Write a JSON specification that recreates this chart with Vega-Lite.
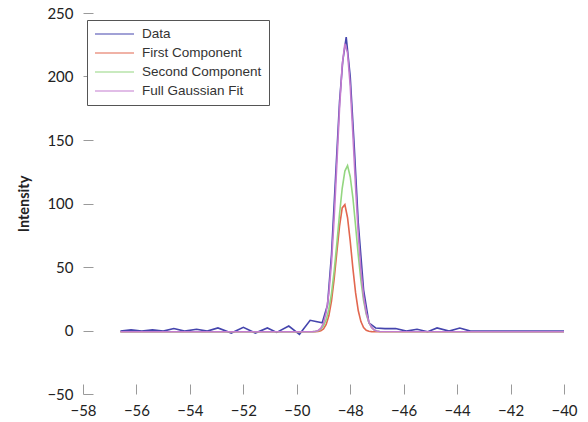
{
  "$schema": "https://vega.github.io/schema/vega-lite/v6.json",
  "autosize": {"type": "none"},
  "width": 481,
  "height": 381,
  "padding": {"left": 83, "top": 13, "right": 24, "bottom": 28},
  "background": "white",
  "config": {
    "view": {"stroke": null},
    "font": "Lato"
  },
  "datasets": {
    "series": [
      {"x": -56.6, "y": -0.5, "series": "Data"},
      {"x": -56.2, "y": 0.5, "series": "Data"},
      {"x": -55.8, "y": -0.5, "series": "Data"},
      {"x": -55.4, "y": 0.5, "series": "Data"},
      {"x": -55.0, "y": -0.5, "series": "Data"},
      {"x": -54.6, "y": 1.5, "series": "Data"},
      {"x": -54.2, "y": -0.5, "series": "Data"},
      {"x": -53.75, "y": 1, "series": "Data"},
      {"x": -53.35, "y": -0.5, "series": "Data"},
      {"x": -52.95, "y": 2, "series": "Data"},
      {"x": -52.45, "y": -2, "series": "Data"},
      {"x": -52.0, "y": 2.5, "series": "Data"},
      {"x": -51.55, "y": -2, "series": "Data"},
      {"x": -51.1, "y": 2, "series": "Data"},
      {"x": -50.75, "y": -1.5, "series": "Data"},
      {"x": -50.3, "y": 3.5, "series": "Data"},
      {"x": -49.9, "y": -3, "series": "Data"},
      {"x": -49.5, "y": 8, "series": "Data"},
      {"x": -49.05, "y": 6, "series": "Data"},
      {"x": -48.85, "y": 20, "series": "Data"},
      {"x": -48.7, "y": 60, "series": "Data"},
      {"x": -48.55, "y": 120, "series": "Data"},
      {"x": -48.4, "y": 180, "series": "Data"},
      {"x": -48.28, "y": 212, "series": "Data"},
      {"x": -48.15, "y": 231, "series": "Data"},
      {"x": -48.0, "y": 200, "series": "Data"},
      {"x": -47.85, "y": 145, "series": "Data"},
      {"x": -47.7, "y": 85, "series": "Data"},
      {"x": -47.5, "y": 32, "series": "Data"},
      {"x": -47.3, "y": 6, "series": "Data"},
      {"x": -47.05, "y": 2, "series": "Data"},
      {"x": -46.7, "y": 1.5, "series": "Data"},
      {"x": -46.3, "y": 1.5, "series": "Data"},
      {"x": -45.9, "y": -0.5, "series": "Data"},
      {"x": -45.5, "y": 1, "series": "Data"},
      {"x": -45.1, "y": -1, "series": "Data"},
      {"x": -44.75, "y": 2, "series": "Data"},
      {"x": -44.3, "y": -0.5, "series": "Data"},
      {"x": -43.9, "y": 2, "series": "Data"},
      {"x": -43.5, "y": -0.5, "series": "Data"},
      {"x": -43.1, "y": -0.5, "series": "Data"},
      {"x": -42.7, "y": -0.5, "series": "Data"},
      {"x": -42.3, "y": -0.5, "series": "Data"},
      {"x": -41.9, "y": -0.5, "series": "Data"},
      {"x": -41.5, "y": -0.5, "series": "Data"},
      {"x": -41.1, "y": -0.5, "series": "Data"},
      {"x": -40.7, "y": -0.5, "series": "Data"},
      {"x": -40.3, "y": -0.5, "series": "Data"},
      {"x": -40.0, "y": -0.5, "series": "Data"},

      {"x": -56.6, "y": -1, "series": "First Component"},
      {"x": -49.3, "y": -0.9, "series": "First Component"},
      {"x": -49.2, "y": -0.75, "series": "First Component"},
      {"x": -49.1, "y": -0.2, "series": "First Component"},
      {"x": -49.0, "y": 1.3, "series": "First Component"},
      {"x": -48.9, "y": 4.7, "series": "First Component"},
      {"x": -48.8, "y": 11.6, "series": "First Component"},
      {"x": -48.7, "y": 23.4, "series": "First Component"},
      {"x": -48.6, "y": 40.8, "series": "First Component"},
      {"x": -48.5, "y": 61.8, "series": "First Component"},
      {"x": -48.4, "y": 82.2, "series": "First Component"},
      {"x": -48.3, "y": 96.5, "series": "First Component"},
      {"x": -48.2, "y": 99.2, "series": "First Component"},
      {"x": -48.1, "y": 88.8, "series": "First Component"},
      {"x": -48.0, "y": 70.4, "series": "First Component"},
      {"x": -47.9, "y": 48.9, "series": "First Component"},
      {"x": -47.8, "y": 29.8, "series": "First Component"},
      {"x": -47.7, "y": 15.7, "series": "First Component"},
      {"x": -47.6, "y": 7.0, "series": "First Component"},
      {"x": -47.5, "y": 2.3, "series": "First Component"},
      {"x": -47.4, "y": 0.2, "series": "First Component"},
      {"x": -47.3, "y": -0.6, "series": "First Component"},
      {"x": -47.2, "y": -0.9, "series": "First Component"},
      {"x": -40.0, "y": -1, "series": "First Component"},

      {"x": -56.6, "y": -1, "series": "Second Component"},
      {"x": -49.4, "y": -0.9, "series": "Second Component"},
      {"x": -49.3, "y": -0.7, "series": "Second Component"},
      {"x": -49.2, "y": -0.2, "series": "Second Component"},
      {"x": -49.1, "y": 1.0, "series": "Second Component"},
      {"x": -49.0, "y": 3.6, "series": "Second Component"},
      {"x": -48.9, "y": 8.4, "series": "Second Component"},
      {"x": -48.8, "y": 16.6, "series": "Second Component"},
      {"x": -48.7, "y": 29.3, "series": "Second Component"},
      {"x": -48.6, "y": 47.0, "series": "Second Component"},
      {"x": -48.5, "y": 68.6, "series": "Second Component"},
      {"x": -48.4, "y": 91.6, "series": "Second Component"},
      {"x": -48.3, "y": 112.0, "series": "Second Component"},
      {"x": -48.2, "y": 125.5, "series": "Second Component"},
      {"x": -48.1, "y": 129.8, "series": "Second Component"},
      {"x": -48.0, "y": 121.1, "series": "Second Component"},
      {"x": -47.9, "y": 104.5, "series": "Second Component"},
      {"x": -47.8, "y": 82.5, "series": "Second Component"},
      {"x": -47.7, "y": 59.6, "series": "Second Component"},
      {"x": -47.6, "y": 39.4, "series": "Second Component"},
      {"x": -47.5, "y": 23.6, "series": "Second Component"},
      {"x": -47.4, "y": 12.8, "series": "Second Component"},
      {"x": -47.3, "y": 6.1, "series": "Second Component"},
      {"x": -47.2, "y": 2.3, "series": "Second Component"},
      {"x": -47.1, "y": 0.4, "series": "Second Component"},
      {"x": -47.0, "y": -0.4, "series": "Second Component"},
      {"x": -46.9, "y": -0.8, "series": "Second Component"},
      {"x": -40.0, "y": -1, "series": "Second Component"},

      {"x": -56.6, "y": -1, "series": "Full Gaussian Fit"},
      {"x": -49.4, "y": -0.9, "series": "Full Gaussian Fit"},
      {"x": -49.3, "y": -0.6, "series": "Full Gaussian Fit"},
      {"x": -49.2, "y": 0.05, "series": "Full Gaussian Fit"},
      {"x": -49.1, "y": 1.8, "series": "Full Gaussian Fit"},
      {"x": -49.0, "y": 5.9, "series": "Full Gaussian Fit"},
      {"x": -48.9, "y": 14.1, "series": "Full Gaussian Fit"},
      {"x": -48.8, "y": 29.2, "series": "Full Gaussian Fit"},
      {"x": -48.7, "y": 53.7, "series": "Full Gaussian Fit"},
      {"x": -48.6, "y": 88.8, "series": "Full Gaussian Fit"},
      {"x": -48.5, "y": 131.4, "series": "Full Gaussian Fit"},
      {"x": -48.4, "y": 174.8, "series": "Full Gaussian Fit"},
      {"x": -48.3, "y": 208.9, "series": "Full Gaussian Fit"},
      {"x": -48.2, "y": 225.9, "series": "Full Gaussian Fit"},
      {"x": -48.1, "y": 218.6, "series": "Full Gaussian Fit"},
      {"x": -48.0, "y": 192.5, "series": "Full Gaussian Fit"},
      {"x": -47.9, "y": 154.4, "series": "Full Gaussian Fit"},
      {"x": -47.8, "y": 113.3, "series": "Full Gaussian Fit"},
      {"x": -47.7, "y": 76.3, "series": "Full Gaussian Fit"},
      {"x": -47.6, "y": 47.4, "series": "Full Gaussian Fit"},
      {"x": -47.5, "y": 26.9, "series": "Full Gaussian Fit"},
      {"x": -47.4, "y": 14.0, "series": "Full Gaussian Fit"},
      {"x": -47.3, "y": 6.5, "series": "Full Gaussian Fit"},
      {"x": -47.2, "y": 2.4, "series": "Full Gaussian Fit"},
      {"x": -47.1, "y": 0.4, "series": "Full Gaussian Fit"},
      {"x": -47.0, "y": -0.4, "series": "Full Gaussian Fit"},
      {"x": -46.9, "y": -0.8, "series": "Full Gaussian Fit"},
      {"x": -40.0, "y": -1, "series": "Full Gaussian Fit"}
    ]
  },
  "data": {"name": "series"},
  "mark": {"type": "line", "strokeWidth": 1.6, "interpolate": "linear"},
  "encoding": {
    "x": {
      "field": "x",
      "type": "quantitative",
      "scale": {"domain": [-58, -40], "nice": false, "zero": false},
      "axis": {
        "title": null,
        "values": [-58, -56, -54, -52, -50, -48, -46, -44, -42, -40],
        "domain": false,
        "grid": false,
        "labelFlush": false,
        "tickSize": -10,
        "tickColor": "#9a9a9a",
        "tickWidth": 1,
        "labelPadding": 19,
        "labelFontSize": 15,
        "labelColor": "#222222",
        "labelFont": "Lato"
      }
    },
    "y": {
      "field": "y",
      "type": "quantitative",
      "scale": {"domain": [-50, 250], "nice": false, "zero": false},
      "axis": {
        "title": "Intensity",
        "values": [-50, 0, 50, 100, 150, 200, 250],
        "domain": false,
        "grid": false,
        "labelFlush": false,
        "tickSize": -10,
        "tickColor": "#9a9a9a",
        "tickWidth": 1,
        "labelPadding": 20,
        "labelFontSize": 15,
        "labelColor": "#222222",
        "labelFont": "Lato",
        "titleFont": "Lato",
        "titleFontSize": 14.5,
        "titleFontWeight": "bold",
        "titleColor": "#222222",
        "titlePadding": 15
      }
    },
    "color": {
      "field": "series",
      "type": "nominal",
      "scale": {
        "domain": ["Data", "First Component", "Second Component", "Full Gaussian Fit"],
        "range": ["#4545ad", "#e2674f", "#94d680", "#c47ccf"]
      },
      "legend": {
        "title": null,
        "orient": "none",
        "legendX": 4,
        "legendY": 7,
        "direction": "vertical",
        "padding": 7,
        "strokeColor": "#555555",
        "fillColor": "white",
        "symbolType": "M-1,0H5.5",
        "symbolSize": 144,
        "symbolStrokeWidth": 1.2,
        "labelOffset": 34,
        "labelFont": "Liberation Sans",
        "labelFontSize": 13.5,
        "labelColor": "#333333",
        "rowPadding": 5,
        "labelLimit": 300
      }
    }
  }
}
